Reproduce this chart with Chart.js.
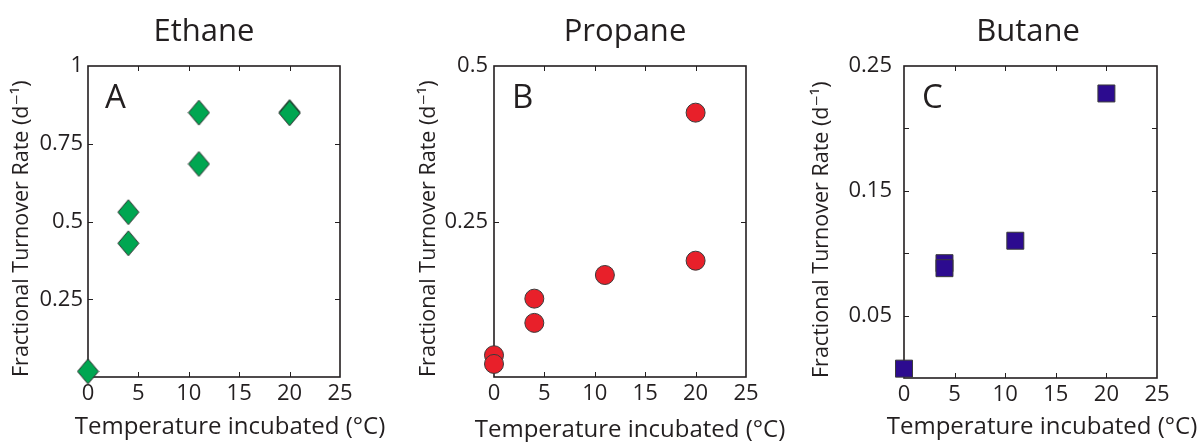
<!DOCTYPE html>
<html lang="en">
<head>
  <meta charset="UTF-8" />
  <title>Fractional turnover rate vs temperature</title>
  <script src="https://cdn.jsdelivr.net/npm/chart.js"></script>
  <style>
    body {
      margin: 0;
      background: #fff;
    }
    .panel {
      position: absolute;
      top: 0;
      height: 442px;
    }
  </style>
</head>
<body>
  <div class="panel" style="left:0;width:400px"><canvas id="ethane" width="400" height="442"></canvas></div>
  <div class="panel" style="left:400px;width:400px"><canvas id="propane" width="400" height="442"></canvas></div>
  <div class="panel" style="left:800px;width:402px"><canvas id="butane" width="402" height="442"></canvas></div>

  <script>
    // values (temperature in °C, rate in 1/day)
    const ethaneTemp = [0, 4, 4, 11, 11, 20, 20];
    const ethaneRate = [0.018, 0.53, 0.43, 0.85, 0.685, 0.852, 0.848];
    const propaneTemp = [0, 0, 4, 4, 11, 20, 20];
    const propaneRate = [0.035, 0.021, 0.126, 0.087, 0.164, 0.425, 0.187];
    const butaneTemp = [0, 4, 4, 11, 20];
    const butaneRate = [0.0075, 0.092, 0.088, 0.110, 0.228];

    const xTickLabels = ['0', '5', '10', '15', '20', '25'];
    const ethaneYLabels = ['', '0.25', '0.5', '0.75', '1'];
    const propaneYLabels = ['', '0.25', '0.5'];
    const butaneYLabels = ['', '0.05', '', '0.15', '', '0.25'];

    const ink = '#231f20';
    const FONT = "'Open Sans', 'DejaVu Sans', sans-serif";
    const xTitle = 'Temperature incubated (°C)';
    const yTitle = 'Fractional Turnover Rate (d⁻¹)';

    // tall diamond marker, like the one in the figure
    function diamond(w, h, fill, stroke) {
      const c = document.createElement('canvas');
      c.width = w + 2;
      c.height = h + 2;
      const g = c.getContext('2d');
      g.beginPath();
      g.moveTo(c.width / 2, 1);
      g.lineTo(c.width - 1, c.height / 2);
      g.lineTo(c.width / 2, c.height - 1);
      g.lineTo(1, c.height / 2);
      g.closePath();
      g.fillStyle = fill;
      g.fill();
      g.strokeStyle = stroke;
      g.lineWidth = 1;
      g.stroke();
      return c;
    }

    // frame with inward ticks on all four sides, plus panel title, letter and x title
    // (x title drawn here because the axis title gets squeezed to the plot width)
    const framePlugin = {
      id: 'frame',
      beforeDatasetsDraw(chart, args, opts) {
        const { ctx, chartArea: a } = chart;
        ctx.save();
        ctx.strokeStyle = ink;
        ctx.lineWidth = 1.6;
        ctx.strokeRect(a.left, a.top, a.right - a.left, a.bottom - a.top);
        ctx.lineWidth = 1;
        const len = 5;
        ctx.beginPath();
        const xs = chart.scales.x, ys = chart.scales.y;
        xs.ticks.forEach(t => {
          if (t.value <= xs.min || t.value >= xs.max) return;
          const px = Math.round(xs.getPixelForValue(t.value)) + 0.5;
          ctx.moveTo(px, a.bottom); ctx.lineTo(px, a.bottom - len);
          ctx.moveTo(px, a.top); ctx.lineTo(px, a.top + len);
        });
        ys.ticks.forEach(t => {
          if (t.value <= ys.min || t.value >= ys.max) return;
          const py = Math.round(ys.getPixelForValue(t.value)) + 0.5;
          ctx.moveTo(a.left, py); ctx.lineTo(a.left + len, py);
          ctx.moveTo(a.right, py); ctx.lineTo(a.right - len, py);
        });
        ctx.stroke();
        ctx.restore();
      },
      afterDraw(chart, args, opts) {
        const ctx = chart.ctx;
        ctx.save();
        ctx.fillStyle = ink;
        ctx.textBaseline = 'alphabetic';
        ctx.textAlign = 'center';
        ctx.font = '31px ' + FONT;
        ctx.fillText(opts.title, opts.titleX, 41);
        ctx.font = '24px ' + FONT;
        ctx.fillText(xTitle, opts.xTitleX, opts.xTitleY);
        ctx.font = '33px ' + FONT;
        ctx.textAlign = 'left';
        ctx.fillText(opts.letter, opts.letterX, 108);
        ctx.restore();
      }
    };

    function makePanel(id, p) {
      new Chart(document.getElementById(id), {
        type: 'scatter',
        data: {
          datasets: [{
            data: p.x.map((x, i) => ({ x: x, y: p.y[i] })),
            pointStyle: p.style,
            pointRadius: p.radius,
            pointBackgroundColor: p.fill,
            pointBorderColor: '#3a3a3a',
            pointBorderWidth: 1,
            clip: false
          }]
        },
        options: {
          responsive: false,
          animation: false,
          events: [],
          layout: { padding: { left: 0, top: 66, right: p.padRight, bottom: 0 } },
          plugins: {
            legend: { display: false },
            tooltip: { enabled: false },
            frame: {
              title: p.title, titleX: p.titleX,
              letter: p.letter, letterX: p.letterX,
              xTitleX: p.xTitleX, xTitleY: p.xTitleY
            }
          },
          scales: {
            x: {
              type: 'linear',
              min: 0,
              max: 25,
              grid: { display: false, drawTicks: false },
              border: { display: false },
              ticks: {
                stepSize: 5,
                padding: 4,
                color: ink,
                font: { family: FONT, size: 22 },
                callback: (v, i) => xTickLabels[i]
              },
              title: { display: false },
              afterFit: s => { s.height = p.xHeight; }
            },
            y: {
              type: 'linear',
              min: 0,
              max: p.yMax,
              grid: { display: false, drawTicks: false },
              border: { display: false },
              ticks: {
                stepSize: p.yStep,
                padding: p.yTickPad,
                color: ink,
                font: { family: FONT, size: 22 },
                callback: (v, i) => p.yLabels[i]
              },
              title: {
                display: true,
                text: yTitle,
                align: 'start',
                color: ink,
                font: { family: FONT, size: 21.5, lineHeight: 1.2 },
                padding: { top: p.yTitlePad, bottom: 0 }
              },
              afterFit: s => { s.width = p.left; }
            }
          }
        },
        plugins: [framePlugin]
      });
    }

    makePanel('ethane', {
      x: ethaneTemp, y: ethaneRate,
      style: diamond(21, 25, '#00a651', '#2f2f2f'), radius: 12, fill: '#00a651',
      left: 88, padRight: 60, xHeight: 65, xTitleX: 230, xTitleY: 434,
      yMax: 1, yStep: 0.25, yLabels: ethaneYLabels, yTickPad: 5, yTitlePad: 9,
      title: 'Ethane', titleX: 204, letter: 'A', letterX: 105
    });

    makePanel('propane', {
      x: propaneTemp, y: propaneRate,
      style: 'circle', radius: 9.5, fill: '#e8202a',
      left: 94, padRight: 54, xHeight: 65, xTitleX: 230, xTitleY: 437,
      yMax: 0.5, yStep: 0.25, yLabels: propaneYLabels, yTickPad: 6, yTitlePad: 16,
      title: 'Propane', titleX: 225, letter: 'B', letterX: 112
    });

    makePanel('butane', {
      x: butaneTemp, y: butaneRate,
      style: 'rect', radius: 12, fill: '#2c0b8f',
      left: 104, padRight: 45, xHeight: 64, xTitleX: 242, xTitleY: 434,
      yMax: 0.25, yStep: 0.05, yLabels: butaneYLabels, yTickPad: 12, yTitlePad: 9,
      title: 'Butane', titleX: 228, letter: 'C', letterX: 122
    });
  </script>
</body>
</html>
